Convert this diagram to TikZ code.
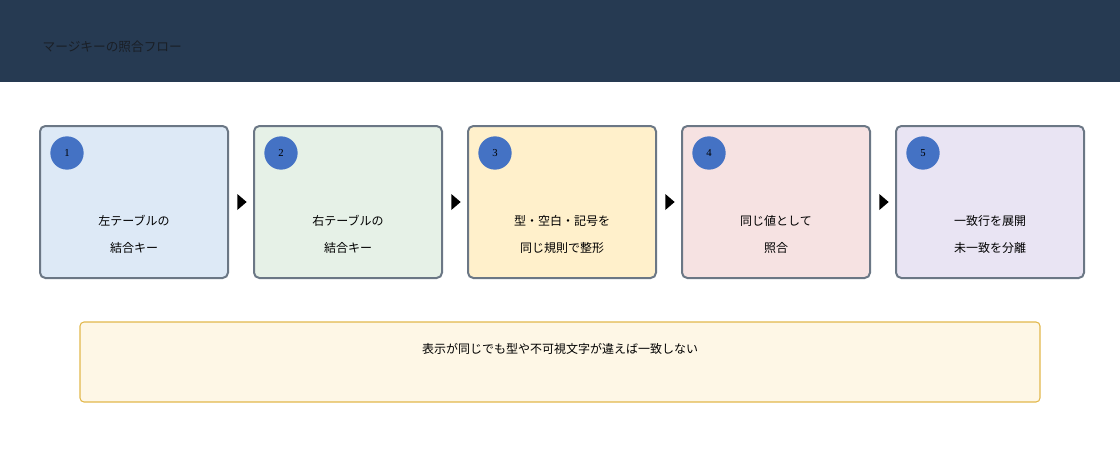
\documentclass[tikz,border=0pt]{standalone}
\usepackage{fontspec}
\setmainfont{Noto Sans CJK JP}
\usetikzlibrary{positioning,shapes.geometric}
\definecolor{headbg}{HTML}{263A52}
\definecolor{headfg}{HTML}{1A1F26}
\definecolor{stepline}{HTML}{6B7785}
\definecolor{numfill}{HTML}{4472C4}
\definecolor{fillA}{HTML}{DDE9F6}
\definecolor{fillB}{HTML}{E6F1E7}
\definecolor{fillC}{HTML}{FFF0CB}
\definecolor{fillD}{HTML}{F6E2E2}
\definecolor{fillE}{HTML}{E9E4F3}
\definecolor{notefill}{HTML}{FEF7E6}
\definecolor{noteline}{HTML}{E2B84C}
\tikzset{
  stepbox/.style={draw=stepline, line width=1.5pt, rounded corners=4pt,
    minimum width=141pt, minimum height=114pt, inner sep=0pt},
  num/.style={circle, fill=numfill, minimum size=25pt, inner sep=0pt,
    font=\fontspec{Liberation Serif}\fontsize{8}{8}\selectfont},
  txt/.style={align=center, font=\fontsize{9}{20}\selectfont},
  arr/.style={fill=black, isosceles triangle, isosceles triangle stretches,
    minimum width=12pt, minimum height=7pt, inner sep=0pt}
}
\begin{document}
\begin{tikzpicture}[x=0.75pt, y=-0.75pt]
\useasboundingbox (0,0) rectangle (1120,460);
\fill[headbg] (0,0) rectangle (1120,82);
\node[anchor=west, text=headfg, font=\fontsize{9.5}{10}\selectfont] (title) at (38,47) {マージキーの照合フロー};

\node[stepbox, fill=fillA] (s1) at (134,202) {};
\node[stepbox, fill=fillB, right=18pt of s1] (s2) {};
\node[stepbox, fill=fillC, right=18pt of s2] (s3) {};
\node[stepbox, fill=fillD, right=18pt of s3] (s4) {};
\node[stepbox, fill=fillE, right=18pt of s4] (s5) {};

\foreach \i in {1,...,5}
  \node[num] (n\i) at ([xshift=21pt, yshift=-21pt]s\i.north west) {\i};

\node[txt] (t1) at ([yshift=-82pt]s1.north) {左テーブルの\\結合キー};
\node[txt] (t2) at ([yshift=-82pt]s2.north) {右テーブルの\\結合キー};
\node[txt] (t3) at ([yshift=-82pt]s3.north) {型・空白・記号を\\同じ規則で整形};
\node[txt] (t4) at ([yshift=-82pt]s4.north) {同じ値として\\照合};
\node[txt] (t5) at ([yshift=-82pt]s5.north) {一致行を展開\\未一致を分離};

\foreach \a/\b in {1/2,2/3,3/4,4/5}
  \path (s\a.east) -- node[arr] (a\a) {} (s\b.west);

\node[draw=noteline, fill=notefill, line width=0.8pt, rounded corners=3pt,
  minimum width=720pt, minimum height=60pt] (note) at (560,362) {};
\node[txt] (notetxt) at (560,349) {表示が同じでも型や不可視文字が違えば一致しない};
\end{tikzpicture}
\end{document}
